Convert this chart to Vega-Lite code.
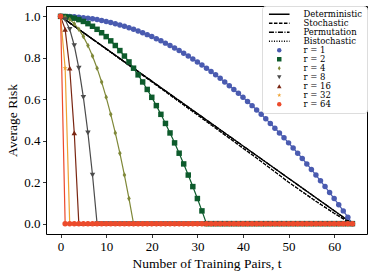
{
"$schema": "https://vega.github.io/schema/vega-lite/v6.json",
"width": 321, "height": 228,
"autosize": "none",
"padding": {"left": 46, "top": 6, "right": 7, "bottom": 43},
"config": {
  "view": {"stroke": "black", "strokeWidth": 1},
  "font": "Liberation Serif",
  "axis": {"grid": false, "domain": false, "tickColor": "black", "tickSize": 3.5, "tickWidth": 0.8, "labelColor": "black", "labelFontSize": 13, "titleFontSize": 13.5, "titleFontWeight": "normal", "titleColor": "black", "labelFont": "Liberation Serif", "titleFont": "Liberation Serif"}
},
"datasets": {
"black": [
{"s":"Deterministic","t":0,"v":1},{"s":"Deterministic","t":64,"v":0},
{"s":"Permutation","t":0,"v":1},{"s":"Permutation","t":64,"v":0},
{"s":"Stochastic","t":0,"v":1},{"s":"Stochastic","t":16,"v":0.748},{"s":"Stochastic","t":32,"v":0.493},{"s":"Stochastic","t":44,"v":0.3},{"s":"Stochastic","t":50,"v":0.2},{"s":"Stochastic","t":56,"v":0.108},{"s":"Stochastic","t":60,"v":0.05},{"s":"Stochastic","t":63,"v":0.01},{"s":"Stochastic","t":64,"v":0},
{"s":"Bistochastic","t":0,"v":1},{"s":"Bistochastic","t":16,"v":0.748},{"s":"Bistochastic","t":32,"v":0.493},{"s":"Bistochastic","t":44,"v":0.3},{"s":"Bistochastic","t":50,"v":0.2},{"s":"Bistochastic","t":56,"v":0.108},{"s":"Bistochastic","t":60,"v":0.05},{"s":"Bistochastic","t":63,"v":0.01},{"s":"Bistochastic","t":64,"v":0}
],
"curves": [
{"s":"r = 1","t":0,"v":1},{"s":"r = 1","t":1,"v":0.99976},{"s":"r = 1","t":2,"v":0.99902},{"s":"r = 1","t":3,"v":0.9978},{"s":"r = 1","t":4,"v":0.99609},{"s":"r = 1","t":5,"v":0.9939},{"s":"r = 1","t":6,"v":0.99121},{"s":"r = 1","t":7,"v":0.98804},{"s":"r = 1","t":8,"v":0.98438},{"s":"r = 1","t":9,"v":0.98022},{"s":"r = 1","t":10,"v":0.97559},{"s":"r = 1","t":11,"v":0.97046},{"s":"r = 1","t":12,"v":0.96484},{"s":"r = 1","t":13,"v":0.95874},{"s":"r = 1","t":14,"v":0.95215},{"s":"r = 1","t":15,"v":0.94507},{"s":"r = 1","t":16,"v":0.9375},{"s":"r = 1","t":17,"v":0.92944},{"s":"r = 1","t":18,"v":0.9209},{"s":"r = 1","t":19,"v":0.91187},{"s":"r = 1","t":20,"v":0.90234},{"s":"r = 1","t":21,"v":0.89233},{"s":"r = 1","t":22,"v":0.88184},{"s":"r = 1","t":23,"v":0.87085},{"s":"r = 1","t":24,"v":0.85938},{"s":"r = 1","t":25,"v":0.84741},{"s":"r = 1","t":26,"v":0.83496},{"s":"r = 1","t":27,"v":0.82202},{"s":"r = 1","t":28,"v":0.80859},{"s":"r = 1","t":29,"v":0.79468},{"s":"r = 1","t":30,"v":0.78027},{"s":"r = 1","t":31,"v":0.76538},{"s":"r = 1","t":32,"v":0.75},{"s":"r = 1","t":33,"v":0.73413},{"s":"r = 1","t":34,"v":0.71777},{"s":"r = 1","t":35,"v":0.70093},{"s":"r = 1","t":36,"v":0.68359},{"s":"r = 1","t":37,"v":0.66577},{"s":"r = 1","t":38,"v":0.64746},{"s":"r = 1","t":39,"v":0.62866},{"s":"r = 1","t":40,"v":0.60938},{"s":"r = 1","t":41,"v":0.5896},{"s":"r = 1","t":42,"v":0.56934},{"s":"r = 1","t":43,"v":0.54858},{"s":"r = 1","t":44,"v":0.52734},{"s":"r = 1","t":45,"v":0.50562},{"s":"r = 1","t":46,"v":0.4834},{"s":"r = 1","t":47,"v":0.46069},{"s":"r = 1","t":48,"v":0.4375},{"s":"r = 1","t":49,"v":0.41382},{"s":"r = 1","t":50,"v":0.38965},{"s":"r = 1","t":51,"v":0.36499},{"s":"r = 1","t":52,"v":0.33984},{"s":"r = 1","t":53,"v":0.31421},{"s":"r = 1","t":54,"v":0.28809},{"s":"r = 1","t":55,"v":0.26147},{"s":"r = 1","t":56,"v":0.23438},{"s":"r = 1","t":57,"v":0.20679},{"s":"r = 1","t":58,"v":0.17871},{"s":"r = 1","t":59,"v":0.15015},{"s":"r = 1","t":60,"v":0.12109},{"s":"r = 1","t":61,"v":0.09155},{"s":"r = 1","t":62,"v":0.06152},{"s":"r = 1","t":63,"v":0.03101},{"s":"r = 1","t":64,"v":0},
{"s":"r = 2","t":0,"v":1},{"s":"r = 2","t":1,"v":0.99902},{"s":"r = 2","t":2,"v":0.99609},{"s":"r = 2","t":3,"v":0.99121},{"s":"r = 2","t":4,"v":0.98438},{"s":"r = 2","t":5,"v":0.97559},{"s":"r = 2","t":6,"v":0.96484},{"s":"r = 2","t":7,"v":0.95215},{"s":"r = 2","t":8,"v":0.9375},{"s":"r = 2","t":9,"v":0.9209},{"s":"r = 2","t":10,"v":0.90234},{"s":"r = 2","t":11,"v":0.88184},{"s":"r = 2","t":12,"v":0.85938},{"s":"r = 2","t":13,"v":0.83496},{"s":"r = 2","t":14,"v":0.80859},{"s":"r = 2","t":15,"v":0.78027},{"s":"r = 2","t":16,"v":0.75},{"s":"r = 2","t":17,"v":0.71777},{"s":"r = 2","t":18,"v":0.68359},{"s":"r = 2","t":19,"v":0.64746},{"s":"r = 2","t":20,"v":0.60938},{"s":"r = 2","t":21,"v":0.56934},{"s":"r = 2","t":22,"v":0.52734},{"s":"r = 2","t":23,"v":0.4834},{"s":"r = 2","t":24,"v":0.4375},{"s":"r = 2","t":25,"v":0.38965},{"s":"r = 2","t":26,"v":0.33984},{"s":"r = 2","t":27,"v":0.28809},{"s":"r = 2","t":28,"v":0.23438},{"s":"r = 2","t":29,"v":0.17871},{"s":"r = 2","t":30,"v":0.12109},{"s":"r = 2","t":31,"v":0.06152},{"s":"r = 2","t":32,"v":0},{"s":"r = 2","t":33,"v":0},{"s":"r = 2","t":34,"v":0},{"s":"r = 2","t":35,"v":0},{"s":"r = 2","t":36,"v":0},{"s":"r = 2","t":37,"v":0},{"s":"r = 2","t":38,"v":0},{"s":"r = 2","t":39,"v":0},{"s":"r = 2","t":40,"v":0},{"s":"r = 2","t":41,"v":0},{"s":"r = 2","t":42,"v":0},{"s":"r = 2","t":43,"v":0},{"s":"r = 2","t":44,"v":0},{"s":"r = 2","t":45,"v":0},{"s":"r = 2","t":46,"v":0},{"s":"r = 2","t":47,"v":0},{"s":"r = 2","t":48,"v":0},{"s":"r = 2","t":49,"v":0},{"s":"r = 2","t":50,"v":0},{"s":"r = 2","t":51,"v":0},{"s":"r = 2","t":52,"v":0},{"s":"r = 2","t":53,"v":0},{"s":"r = 2","t":54,"v":0},{"s":"r = 2","t":55,"v":0},{"s":"r = 2","t":56,"v":0},{"s":"r = 2","t":57,"v":0},{"s":"r = 2","t":58,"v":0},{"s":"r = 2","t":59,"v":0},{"s":"r = 2","t":60,"v":0},{"s":"r = 2","t":61,"v":0},{"s":"r = 2","t":62,"v":0},{"s":"r = 2","t":63,"v":0},{"s":"r = 2","t":64,"v":0},
{"s":"r = 4","t":0,"v":1},{"s":"r = 4","t":1,"v":0.99609},{"s":"r = 4","t":2,"v":0.98438},{"s":"r = 4","t":3,"v":0.96484},{"s":"r = 4","t":4,"v":0.9375},{"s":"r = 4","t":5,"v":0.90234},{"s":"r = 4","t":6,"v":0.85938},{"s":"r = 4","t":7,"v":0.80859},{"s":"r = 4","t":8,"v":0.75},{"s":"r = 4","t":9,"v":0.68359},{"s":"r = 4","t":10,"v":0.60938},{"s":"r = 4","t":11,"v":0.52734},{"s":"r = 4","t":12,"v":0.4375},{"s":"r = 4","t":13,"v":0.33984},{"s":"r = 4","t":14,"v":0.23438},{"s":"r = 4","t":15,"v":0.12109},{"s":"r = 4","t":16,"v":0},{"s":"r = 4","t":17,"v":0},{"s":"r = 4","t":18,"v":0},{"s":"r = 4","t":19,"v":0},{"s":"r = 4","t":20,"v":0},{"s":"r = 4","t":21,"v":0},{"s":"r = 4","t":22,"v":0},{"s":"r = 4","t":23,"v":0},{"s":"r = 4","t":24,"v":0},{"s":"r = 4","t":25,"v":0},{"s":"r = 4","t":26,"v":0},{"s":"r = 4","t":27,"v":0},{"s":"r = 4","t":28,"v":0},{"s":"r = 4","t":29,"v":0},{"s":"r = 4","t":30,"v":0},{"s":"r = 4","t":31,"v":0},{"s":"r = 4","t":32,"v":0},{"s":"r = 4","t":33,"v":0},{"s":"r = 4","t":34,"v":0},{"s":"r = 4","t":35,"v":0},{"s":"r = 4","t":36,"v":0},{"s":"r = 4","t":37,"v":0},{"s":"r = 4","t":38,"v":0},{"s":"r = 4","t":39,"v":0},{"s":"r = 4","t":40,"v":0},{"s":"r = 4","t":41,"v":0},{"s":"r = 4","t":42,"v":0},{"s":"r = 4","t":43,"v":0},{"s":"r = 4","t":44,"v":0},{"s":"r = 4","t":45,"v":0},{"s":"r = 4","t":46,"v":0},{"s":"r = 4","t":47,"v":0},{"s":"r = 4","t":48,"v":0},{"s":"r = 4","t":49,"v":0},{"s":"r = 4","t":50,"v":0},{"s":"r = 4","t":51,"v":0},{"s":"r = 4","t":52,"v":0},{"s":"r = 4","t":53,"v":0},{"s":"r = 4","t":54,"v":0},{"s":"r = 4","t":55,"v":0},{"s":"r = 4","t":56,"v":0},{"s":"r = 4","t":57,"v":0},{"s":"r = 4","t":58,"v":0},{"s":"r = 4","t":59,"v":0},{"s":"r = 4","t":60,"v":0},{"s":"r = 4","t":61,"v":0},{"s":"r = 4","t":62,"v":0},{"s":"r = 4","t":63,"v":0},{"s":"r = 4","t":64,"v":0},
{"s":"r = 8","t":0,"v":1},{"s":"r = 8","t":1,"v":0.98438},{"s":"r = 8","t":2,"v":0.9375},{"s":"r = 8","t":3,"v":0.85938},{"s":"r = 8","t":4,"v":0.75},{"s":"r = 8","t":5,"v":0.60938},{"s":"r = 8","t":6,"v":0.4375},{"s":"r = 8","t":7,"v":0.23438},{"s":"r = 8","t":8,"v":0},{"s":"r = 8","t":9,"v":0},{"s":"r = 8","t":10,"v":0},{"s":"r = 8","t":11,"v":0},{"s":"r = 8","t":12,"v":0},{"s":"r = 8","t":13,"v":0},{"s":"r = 8","t":14,"v":0},{"s":"r = 8","t":15,"v":0},{"s":"r = 8","t":16,"v":0},{"s":"r = 8","t":17,"v":0},{"s":"r = 8","t":18,"v":0},{"s":"r = 8","t":19,"v":0},{"s":"r = 8","t":20,"v":0},{"s":"r = 8","t":21,"v":0},{"s":"r = 8","t":22,"v":0},{"s":"r = 8","t":23,"v":0},{"s":"r = 8","t":24,"v":0},{"s":"r = 8","t":25,"v":0},{"s":"r = 8","t":26,"v":0},{"s":"r = 8","t":27,"v":0},{"s":"r = 8","t":28,"v":0},{"s":"r = 8","t":29,"v":0},{"s":"r = 8","t":30,"v":0},{"s":"r = 8","t":31,"v":0},{"s":"r = 8","t":32,"v":0},{"s":"r = 8","t":33,"v":0},{"s":"r = 8","t":34,"v":0},{"s":"r = 8","t":35,"v":0},{"s":"r = 8","t":36,"v":0},{"s":"r = 8","t":37,"v":0},{"s":"r = 8","t":38,"v":0},{"s":"r = 8","t":39,"v":0},{"s":"r = 8","t":40,"v":0},{"s":"r = 8","t":41,"v":0},{"s":"r = 8","t":42,"v":0},{"s":"r = 8","t":43,"v":0},{"s":"r = 8","t":44,"v":0},{"s":"r = 8","t":45,"v":0},{"s":"r = 8","t":46,"v":0},{"s":"r = 8","t":47,"v":0},{"s":"r = 8","t":48,"v":0},{"s":"r = 8","t":49,"v":0},{"s":"r = 8","t":50,"v":0},{"s":"r = 8","t":51,"v":0},{"s":"r = 8","t":52,"v":0},{"s":"r = 8","t":53,"v":0},{"s":"r = 8","t":54,"v":0},{"s":"r = 8","t":55,"v":0},{"s":"r = 8","t":56,"v":0},{"s":"r = 8","t":57,"v":0},{"s":"r = 8","t":58,"v":0},{"s":"r = 8","t":59,"v":0},{"s":"r = 8","t":60,"v":0},{"s":"r = 8","t":61,"v":0},{"s":"r = 8","t":62,"v":0},{"s":"r = 8","t":63,"v":0},{"s":"r = 8","t":64,"v":0},
{"s":"r = 16","t":0,"v":1},{"s":"r = 16","t":1,"v":0.9375},{"s":"r = 16","t":2,"v":0.75},{"s":"r = 16","t":3,"v":0.4375},{"s":"r = 16","t":4,"v":0},{"s":"r = 16","t":5,"v":0},{"s":"r = 16","t":6,"v":0},{"s":"r = 16","t":7,"v":0},{"s":"r = 16","t":8,"v":0},{"s":"r = 16","t":9,"v":0},{"s":"r = 16","t":10,"v":0},{"s":"r = 16","t":11,"v":0},{"s":"r = 16","t":12,"v":0},{"s":"r = 16","t":13,"v":0},{"s":"r = 16","t":14,"v":0},{"s":"r = 16","t":15,"v":0},{"s":"r = 16","t":16,"v":0},{"s":"r = 16","t":17,"v":0},{"s":"r = 16","t":18,"v":0},{"s":"r = 16","t":19,"v":0},{"s":"r = 16","t":20,"v":0},{"s":"r = 16","t":21,"v":0},{"s":"r = 16","t":22,"v":0},{"s":"r = 16","t":23,"v":0},{"s":"r = 16","t":24,"v":0},{"s":"r = 16","t":25,"v":0},{"s":"r = 16","t":26,"v":0},{"s":"r = 16","t":27,"v":0},{"s":"r = 16","t":28,"v":0},{"s":"r = 16","t":29,"v":0},{"s":"r = 16","t":30,"v":0},{"s":"r = 16","t":31,"v":0},{"s":"r = 16","t":32,"v":0},{"s":"r = 16","t":33,"v":0},{"s":"r = 16","t":34,"v":0},{"s":"r = 16","t":35,"v":0},{"s":"r = 16","t":36,"v":0},{"s":"r = 16","t":37,"v":0},{"s":"r = 16","t":38,"v":0},{"s":"r = 16","t":39,"v":0},{"s":"r = 16","t":40,"v":0},{"s":"r = 16","t":41,"v":0},{"s":"r = 16","t":42,"v":0},{"s":"r = 16","t":43,"v":0},{"s":"r = 16","t":44,"v":0},{"s":"r = 16","t":45,"v":0},{"s":"r = 16","t":46,"v":0},{"s":"r = 16","t":47,"v":0},{"s":"r = 16","t":48,"v":0},{"s":"r = 16","t":49,"v":0},{"s":"r = 16","t":50,"v":0},{"s":"r = 16","t":51,"v":0},{"s":"r = 16","t":52,"v":0},{"s":"r = 16","t":53,"v":0},{"s":"r = 16","t":54,"v":0},{"s":"r = 16","t":55,"v":0},{"s":"r = 16","t":56,"v":0},{"s":"r = 16","t":57,"v":0},{"s":"r = 16","t":58,"v":0},{"s":"r = 16","t":59,"v":0},{"s":"r = 16","t":60,"v":0},{"s":"r = 16","t":61,"v":0},{"s":"r = 16","t":62,"v":0},{"s":"r = 16","t":63,"v":0},{"s":"r = 16","t":64,"v":0},
{"s":"r = 32","t":0,"v":1},{"s":"r = 32","t":1,"v":0.75},{"s":"r = 32","t":2,"v":0},{"s":"r = 32","t":3,"v":0},{"s":"r = 32","t":4,"v":0},{"s":"r = 32","t":5,"v":0},{"s":"r = 32","t":6,"v":0},{"s":"r = 32","t":7,"v":0},{"s":"r = 32","t":8,"v":0},{"s":"r = 32","t":9,"v":0},{"s":"r = 32","t":10,"v":0},{"s":"r = 32","t":11,"v":0},{"s":"r = 32","t":12,"v":0},{"s":"r = 32","t":13,"v":0},{"s":"r = 32","t":14,"v":0},{"s":"r = 32","t":15,"v":0},{"s":"r = 32","t":16,"v":0},{"s":"r = 32","t":17,"v":0},{"s":"r = 32","t":18,"v":0},{"s":"r = 32","t":19,"v":0},{"s":"r = 32","t":20,"v":0},{"s":"r = 32","t":21,"v":0},{"s":"r = 32","t":22,"v":0},{"s":"r = 32","t":23,"v":0},{"s":"r = 32","t":24,"v":0},{"s":"r = 32","t":25,"v":0},{"s":"r = 32","t":26,"v":0},{"s":"r = 32","t":27,"v":0},{"s":"r = 32","t":28,"v":0},{"s":"r = 32","t":29,"v":0},{"s":"r = 32","t":30,"v":0},{"s":"r = 32","t":31,"v":0},{"s":"r = 32","t":32,"v":0},{"s":"r = 32","t":33,"v":0},{"s":"r = 32","t":34,"v":0},{"s":"r = 32","t":35,"v":0},{"s":"r = 32","t":36,"v":0},{"s":"r = 32","t":37,"v":0},{"s":"r = 32","t":38,"v":0},{"s":"r = 32","t":39,"v":0},{"s":"r = 32","t":40,"v":0},{"s":"r = 32","t":41,"v":0},{"s":"r = 32","t":42,"v":0},{"s":"r = 32","t":43,"v":0},{"s":"r = 32","t":44,"v":0},{"s":"r = 32","t":45,"v":0},{"s":"r = 32","t":46,"v":0},{"s":"r = 32","t":47,"v":0},{"s":"r = 32","t":48,"v":0},{"s":"r = 32","t":49,"v":0},{"s":"r = 32","t":50,"v":0},{"s":"r = 32","t":51,"v":0},{"s":"r = 32","t":52,"v":0},{"s":"r = 32","t":53,"v":0},{"s":"r = 32","t":54,"v":0},{"s":"r = 32","t":55,"v":0},{"s":"r = 32","t":56,"v":0},{"s":"r = 32","t":57,"v":0},{"s":"r = 32","t":58,"v":0},{"s":"r = 32","t":59,"v":0},{"s":"r = 32","t":60,"v":0},{"s":"r = 32","t":61,"v":0},{"s":"r = 32","t":62,"v":0},{"s":"r = 32","t":63,"v":0},{"s":"r = 32","t":64,"v":0},
{"s":"r = 64","t":0,"v":1},{"s":"r = 64","t":1,"v":0},{"s":"r = 64","t":2,"v":0},{"s":"r = 64","t":3,"v":0},{"s":"r = 64","t":4,"v":0},{"s":"r = 64","t":5,"v":0},{"s":"r = 64","t":6,"v":0},{"s":"r = 64","t":7,"v":0},{"s":"r = 64","t":8,"v":0},{"s":"r = 64","t":9,"v":0},{"s":"r = 64","t":10,"v":0},{"s":"r = 64","t":11,"v":0},{"s":"r = 64","t":12,"v":0},{"s":"r = 64","t":13,"v":0},{"s":"r = 64","t":14,"v":0},{"s":"r = 64","t":15,"v":0},{"s":"r = 64","t":16,"v":0},{"s":"r = 64","t":17,"v":0},{"s":"r = 64","t":18,"v":0},{"s":"r = 64","t":19,"v":0},{"s":"r = 64","t":20,"v":0},{"s":"r = 64","t":21,"v":0},{"s":"r = 64","t":22,"v":0},{"s":"r = 64","t":23,"v":0},{"s":"r = 64","t":24,"v":0},{"s":"r = 64","t":25,"v":0},{"s":"r = 64","t":26,"v":0},{"s":"r = 64","t":27,"v":0},{"s":"r = 64","t":28,"v":0},{"s":"r = 64","t":29,"v":0},{"s":"r = 64","t":30,"v":0},{"s":"r = 64","t":31,"v":0},{"s":"r = 64","t":32,"v":0},{"s":"r = 64","t":33,"v":0},{"s":"r = 64","t":34,"v":0},{"s":"r = 64","t":35,"v":0},{"s":"r = 64","t":36,"v":0},{"s":"r = 64","t":37,"v":0},{"s":"r = 64","t":38,"v":0},{"s":"r = 64","t":39,"v":0},{"s":"r = 64","t":40,"v":0},{"s":"r = 64","t":41,"v":0},{"s":"r = 64","t":42,"v":0},{"s":"r = 64","t":43,"v":0},{"s":"r = 64","t":44,"v":0},{"s":"r = 64","t":45,"v":0},{"s":"r = 64","t":46,"v":0},{"s":"r = 64","t":47,"v":0},{"s":"r = 64","t":48,"v":0},{"s":"r = 64","t":49,"v":0},{"s":"r = 64","t":50,"v":0},{"s":"r = 64","t":51,"v":0},{"s":"r = 64","t":52,"v":0},{"s":"r = 64","t":53,"v":0},{"s":"r = 64","t":54,"v":0},{"s":"r = 64","t":55,"v":0},{"s":"r = 64","t":56,"v":0},{"s":"r = 64","t":57,"v":0},{"s":"r = 64","t":58,"v":0},{"s":"r = 64","t":59,"v":0},{"s":"r = 64","t":60,"v":0},{"s":"r = 64","t":61,"v":0},{"s":"r = 64","t":62,"v":0},{"s":"r = 64","t":63,"v":0},{"s":"r = 64","t":64,"v":0}
]
},
"encoding": {
  "x": {"field": "t", "type": "quantitative", "scale": {"domain": [-3.2, 67.2], "nice": false, "zero": false}, "axis": {"values": [0, 10, 20, 30, 40, 50, 60], "title": "Number of Training Pairs, t", "labelPadding": 3, "titlePadding": 3}},
  "y": {"field": "v", "type": "quantitative", "scale": {"domain": [-0.05, 1.05], "nice": false, "zero": false}, "axis": {"values": [0, 0.2, 0.4, 0.6, 0.8, 1.0], "format": ".1f", "title": "Average Risk", "labelPadding": 2.5, "titlePadding": 4}}
},
"layer": [
  {"data": {"name": "black"},
   "mark": {"type": "line", "strokeWidth": 1.3},
   "encoding": {
     "color": {"field": "s", "type": "nominal",
       "scale": {"domain": ["Deterministic","Stochastic","Permutation","Bistochastic","r = 1","r = 2","r = 4","r = 8","r = 16","r = 32","r = 64"],
                 "range": ["#000000","#000000","#000000","#000000","#4a5bb0","#0d5b2c","#7f8838","#4b4b4b","#7a2612","#eea232","#ec4b2c"]},
       "legend": {"orient": "top-right", "title": null, "offset": 0, "padding": 4, "labelFontSize": 8.5, "labelFont": "DejaVu Serif", "labelColor": "black", "symbolSize": 20, "symbolOffset": 9, "labelOffset": 20, "rowPadding": 0, "strokeColor": "#dddddd", "fillColor": "white", "cornerRadius": 3,
         "encode": {"symbols": {"update": {
           "shape": {"scale": "shape", "field": "value"},
           "strokeDash": {"scale": "strokeDash", "field": "value"},
           "stroke": {"scale": "color", "field": "value"},
           "fill": {"scale": "color", "field": "value"},
           "opacity": {"value": 1},
           "fillOpacity": {"value": 1},
           "strokeWidth": {"signal": "indexof(['Deterministic','Stochastic','Permutation','Bistochastic'], datum.value) >= 0 ? 1.3 : 0"}
         }}}}},
     "strokeDash": {"field": "s", "type": "nominal",
       "scale": {"domain": ["Deterministic","Stochastic","Permutation","Bistochastic","r = 1","r = 2","r = 4","r = 8","r = 16","r = 32","r = 64"],
                 "range": [[1,0],[3.5,1.5],[5,1.5,1,1.5],[1,1.5],[1,0],[1,0],[1,0],[1,0],[1,0],[1,0],[1,0]]},
       "legend": null}
   }},
  {"data": {"name": "curves"},
   "mark": {"type": "line", "strokeWidth": 1.2},
   "encoding": {"color": {"field": "s", "type": "nominal"}}},
  {"data": {"name": "curves"},
   "mark": {"type": "point", "filled": true, "size": 30, "opacity": 1},
   "encoding": {
     "color": {"field": "s", "type": "nominal"},
     "shape": {"field": "s", "type": "nominal",
       "scale": {"domain": ["Deterministic","Stochastic","Permutation","Bistochastic","r = 1","r = 2","r = 4","r = 8","r = 16","r = 32","r = 64"],
                 "range": ["M-4.6,0H4.6","M-4.6,0H4.6","M-4.6,0H4.6","M-4.6,0H4.6","circle","square","M0,-1L0.65,0L0,1L-0.65,0Z","triangle-down","triangle-up","M0,-1L0.2245,-0.309L0.951,-0.309L0.363,0.118L0.588,0.809L0,0.382L-0.588,0.809L-0.363,0.118L-0.951,-0.309L-0.2245,-0.309Z","circle"]},
       "legend": null}
   }}
]
}
